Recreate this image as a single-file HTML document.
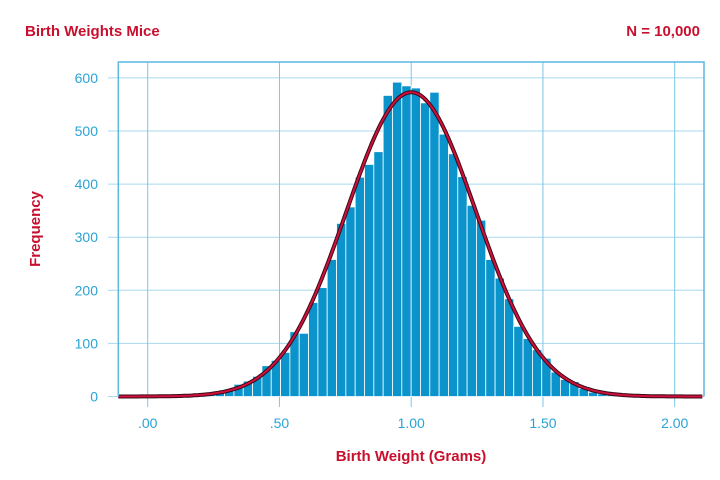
<!DOCTYPE html>
<html><head><meta charset="utf-8"><style>
body{margin:0;background:#fff;}
svg{display:block;font-family:"Liberation Sans",sans-serif;}
</style></head><body>
<svg id="chart" width="720" height="480">
<text x="25" y="36" font-size="15" font-weight="bold" fill="#c8102e">Birth Weights Mice</text>
<text x="700" y="36" font-size="15" font-weight="bold" fill="#c8102e" text-anchor="end">N = 10,000</text>
<text x="411" y="461" font-size="15" font-weight="bold" fill="#c8102e" text-anchor="middle">Birth Weight (Grams)</text>
<text transform="translate(40,229) rotate(-90)" font-size="15" font-weight="bold" fill="#c8102e" text-anchor="middle">Frequency</text>
<g id="grid"></g><g id="bars"></g><g id="curve"></g><g id="axes"></g>
</svg>
<script>
const binStart = 0.221;
const binWidth = 0.0354;
const counts = [4,7,11,23,29,38,58,68,83,122,119,177,205,258,326,357,413,437,461,567,592,585,581,553,573,494,457,414,360,332,258,223,184,132,109,88,72,46,32,28,15,8,5,3,2,1];
const xTicks = [0,0.5,1,1.5,2];
const xTickLabels = [".00",".50","1.00","1.50","2.00"];
const yTicks = [0,100,200,300,400,500,600];
const curveMean = 1.0;
const curveSd = 0.2465;
const curveN = 10000;

const L=118.3,R=704,T=62,B=396.5;
const X=v=>147.7+v*263.5;
const Y=v=>396.5-v*0.531;
const ns="http://www.w3.org/2000/svg";
function mk(tag,attrs,parent){const e=document.createElementNS(ns,tag);for(const k in attrs)e.setAttribute(k,attrs[k]);parent.appendChild(e);return e;}
const grid=document.getElementById('grid'),bars=document.getElementById('bars'),curve=document.getElementById('curve'),axes=document.getElementById('axes');

yTicks.forEach(t=>{
  const l=mk('line',{x1:108,x2:R,y1:Y(t),y2:Y(t),stroke:'#a8d8ec','stroke-width':1},grid);
  
  
  const tx=mk('text',{x:98,y:Y(t)+5,'font-size':14,fill:'#29a3d6','text-anchor':'end'},axes);
  tx.textContent=t;
  
  
});
xTicks.forEach((t,i)=>{
  const l=mk('line',{x1:X(t),x2:X(t),y1:T,y2:407,stroke:'#7cc6e6','stroke-width':1},grid);
  
  
  const tx=mk('text',{x:X(t),y:428,'font-size':14,fill:'#29a3d6','text-anchor':'middle'},axes);
  tx.textContent=xTickLabels[i];
  
  
});
counts.forEach((c,i)=>{
  const x0=X(binStart+i*binWidth),x1=X(binStart+(i+1)*binWidth);
  const r=mk('rect',{x:x0,y:Y(c),width:x1-x0,height:Y(0)-Y(c),fill:'#0b93cc',stroke:'#ffffff','stroke-width':0.8},bars);
  
  
});
let d='';
for(let px=L;px<=R;px+=2){
  const v=(px-147.7)/263.5;
  const f=curveN*binWidth/(curveSd*Math.sqrt(2*Math.PI))*Math.exp(-0.5*((v-curveMean)/curveSd)**2);
  d+=(d?'L':'M')+px.toFixed(1)+','+Y(f).toFixed(1);
}
const c1=mk('path',{d:d,fill:'none',stroke:'#3a0a1a','stroke-width':4},curve);


const c2=mk('path',{d:d,fill:'none',stroke:'#d0103a','stroke-width':2},curve);


const fr=mk('path',{d:`M${L},${B}V${T}H${R}V${B}`,fill:'none',stroke:'#5bb8e0','stroke-width':1.5},axes);


</script>
</body></html>
